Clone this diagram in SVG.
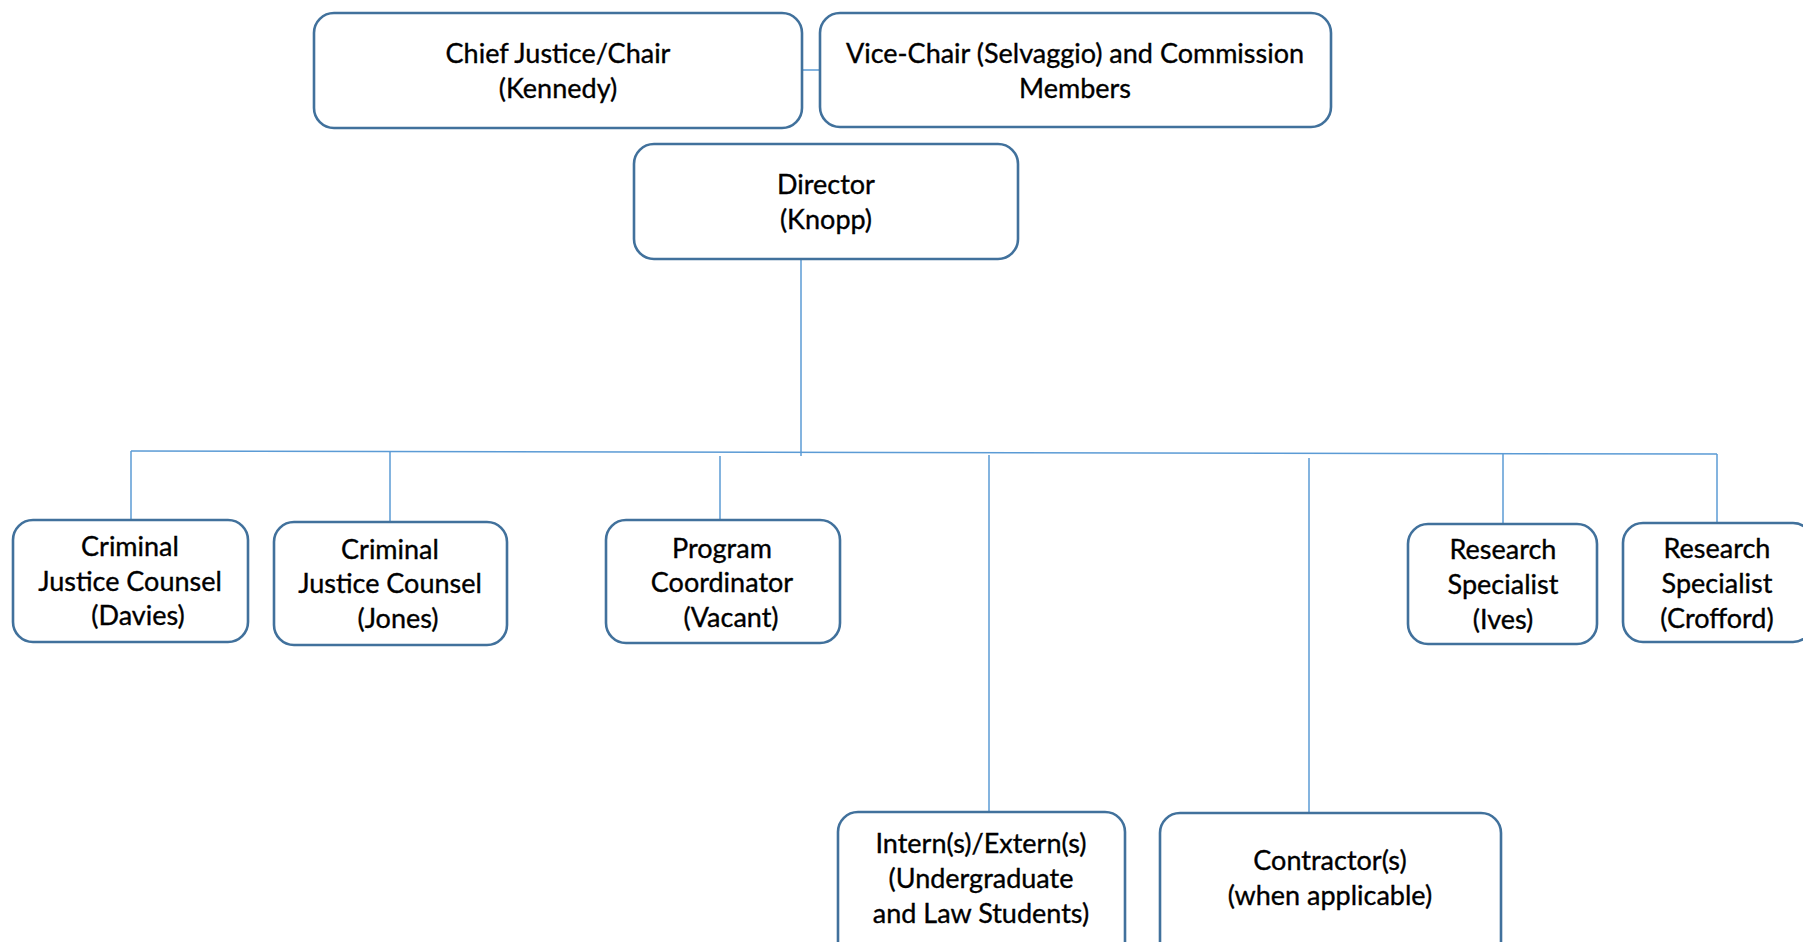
<svg xmlns="http://www.w3.org/2000/svg" width="1803" height="942" viewBox="0 0 1803 942">
<style>
.box{fill:#fff;stroke:#41719C;stroke-width:2.6}
.t{font-family:Lato,"Liberation Sans",sans-serif;font-size:27px;fill:#000;stroke:#000;stroke-width:0.35;text-anchor:middle}
.c{stroke:#5B9BD5;stroke-width:1.5;fill:none}
</style>
<rect width="1803" height="942" fill="#fff"/>
<g id="connectors">
<line class="c" x1="802" y1="70" x2="820" y2="70"/>
<line class="c" x1="801" y1="259" x2="801" y2="456"/>
<line class="c" x1="131" y1="451" x2="1717" y2="454" stroke-width="2"/>
<line class="c" x1="131" y1="451" x2="131" y2="520"/>
<line class="c" x1="390" y1="452" x2="390" y2="522"/>
<line class="c" x1="720" y1="456" x2="720" y2="520"/>
<line class="c" x1="989" y1="455" x2="989" y2="812"/>
<line class="c" x1="1309" y1="458" x2="1309" y2="813"/>
<line class="c" x1="1503" y1="454" x2="1503" y2="524"/>
<line class="c" x1="1717" y1="454" x2="1717" y2="523"/>
</g>
<g id="chief">
<rect class="box" x="314" y="13" width="488" height="115" rx="20"/>
<text class="t" x="558" y="63">Chief Justice/Chair</text>
<text class="t" x="558" y="98">(Kennedy)</text>
</g>
<g id="vicechair">
<rect class="box" x="820" y="13" width="511" height="114" rx="20"/>
<text class="t" x="1075" y="63">Vice-Chair (Selvaggio) and Commission</text>
<text class="t" x="1075" y="98">Members</text>
</g>
<g id="director">
<rect class="box" x="634" y="144" width="384" height="115" rx="20"/>
<text class="t" x="826" y="194">Director</text>
<text class="t" x="826" y="229">(Knopp)</text>
</g>
<g id="davies">
<rect class="box" x="13" y="520" width="235" height="122" rx="20"/>
<text class="t" x="130" y="556">Criminal</text>
<text class="t" x="130" y="591">Justice Counsel</text>
<text class="t" x="138" y="625">(Davies)</text>
</g>
<g id="jones">
<rect class="box" x="274" y="522" width="233" height="123" rx="20"/>
<text class="t" x="390" y="559">Criminal</text>
<text class="t" x="390" y="593">Justice Counsel</text>
<text class="t" x="398" y="628">(Jones)</text>
</g>
<g id="program">
<rect class="box" x="606" y="520" width="234" height="123" rx="20"/>
<text class="t" x="722" y="558">Program</text>
<text class="t" x="722" y="592">Coordinator</text>
<text class="t" x="731" y="627">(Vacant)</text>
</g>
<g id="ives">
<rect class="box" x="1408" y="524" width="189" height="120" rx="20"/>
<text class="t" x="1503" y="559">Research</text>
<text class="t" x="1503" y="594">Specialist</text>
<text class="t" x="1503" y="629">(Ives)</text>
</g>
<g id="crofford">
<rect class="box" x="1623" y="523" width="190" height="119" rx="20"/>
<text class="t" x="1717" y="558">Research</text>
<text class="t" x="1717" y="593">Specialist</text>
<text class="t" x="1717" y="628">(Crofford)</text>
</g>
<g id="interns">
<rect class="box" x="838" y="812" width="287" height="150" rx="20"/>
<text class="t" x="981" y="853">Intern(s)/Extern(s)</text>
<text class="t" x="981" y="888">(Undergraduate</text>
<text class="t" x="981" y="923">and Law Students)</text>
</g>
<g id="contractors">
<rect class="box" x="1160" y="813" width="341" height="150" rx="20"/>
<text class="t" x="1330" y="870">Contractor(s)</text>
<text class="t" x="1330" y="905">(when applicable)</text>
</g>
</svg>
